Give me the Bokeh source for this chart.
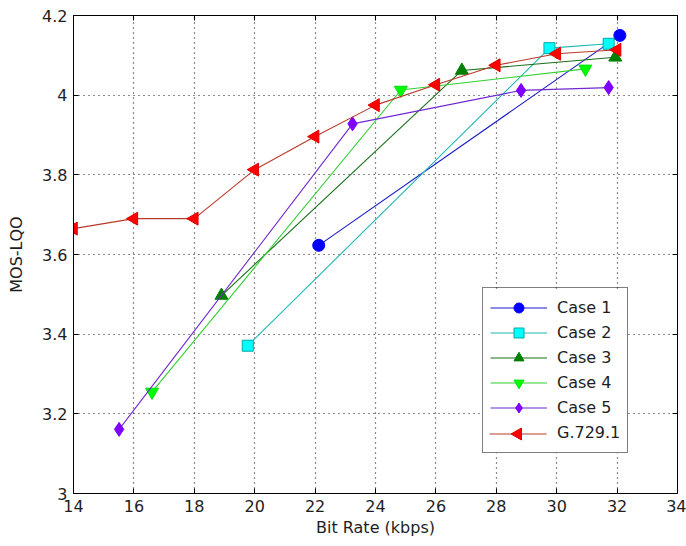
import math
from bokeh.plotting import figure
from bokeh.models import LinearAxis, Range1d, FixedTicker, Legend, LegendItem, ColumnDataSource
from bokeh.embed import file_html
from bokeh.resources import INLINE

# ---- data ----
case1_x = [22.12, 32.09]
case1_y = [3.623, 4.150]
case2_x = [19.77, 29.76, 31.72]
case2_y = [3.371, 4.118, 4.129]
case3_x = [18.90, 26.86, 31.94]
case3_y = [3.497, 4.062, 4.095]
case4_x = [16.60, 24.84, 30.95]
case4_y = [3.255, 4.013, 4.066]
case5_x = [15.51, 23.24, 28.82, 31.72]
case5_y = [3.161, 3.928, 4.012, 4.019]
g7291_x = [14, 16, 18, 20, 22, 24, 26, 28, 30, 32]
g7291_y = [3.665, 3.690, 3.690, 3.813, 3.896, 3.975, 4.026, 4.075, 4.104, 4.114]

x_ticks = [14, 16, 18, 20, 22, 24, 26, 28, 30, 32, 34]
y_ticks = [3.0, 3.2, 3.4, 3.6, 3.8, 4.0, 4.2]
y_tick_labels = {3.0: "3", 3.2: "3.2", 3.4: "3.4", 3.6: "3.6", 3.8: "3.8", 4.0: "4", 4.2: "4.2"}

FONT = "DejaVu Sans"
TXT = "#1e1e1e"

# frame size in pixels (used for the legend helper ranges)
FRAME_W, FRAME_H = 604, 478

p = figure(width=686, height=546, output_backend="svg", toolbar_location=None,
           x_range=Range1d(14, 34), y_range=Range1d(3, 4.2),
           min_border_left=73, min_border_right=9, min_border_top=15, min_border_bottom=53)
p.outline_line_color = "black"
p.outline_line_width = 1
p.background_fill_color = "white"
p.border_fill_color = "white"
p.extra_x_ranges = {"px": Range1d(0, FRAME_W)}
p.extra_y_ranges = {"py": Range1d(0, FRAME_H)}

# axes
for ax in (p.xaxis[0], p.yaxis[0]):
    ax.axis_line_color = "black"
    ax.major_tick_in = 5
    ax.major_tick_out = 0
    ax.minor_tick_line_color = None
    ax.major_tick_line_color = "black"
    ax.major_label_text_font = FONT
    ax.major_label_text_font_size = "16px"
    ax.major_label_text_color = TXT
    ax.axis_label_text_font = FONT
    ax.axis_label_text_font_size = "16px"
    ax.axis_label_text_font_style = "normal"
    ax.axis_label_text_color = TXT

p.xaxis[0].ticker = FixedTicker(ticks=x_ticks)
p.yaxis[0].ticker = FixedTicker(ticks=y_ticks)
p.yaxis[0].major_label_overrides = y_tick_labels
p.xaxis[0].axis_label = "Bit Rate (kbps)"
p.yaxis[0].axis_label = "MOS-LQO"
p.xaxis[0].major_label_standoff = 6
p.yaxis[0].major_label_standoff = 6
p.xaxis[0].axis_label_standoff = 3
p.yaxis[0].axis_label_standoff = 13

# top / right tick-only axes (no labels)
top = LinearAxis(ticker=FixedTicker(ticks=x_ticks), major_tick_in=5, major_tick_out=0,
                 minor_tick_line_color=None, major_label_text_color=None,
                 major_label_text_font_size="1px", major_label_standoff=0,
                 axis_line_color="black")
right = LinearAxis(ticker=FixedTicker(ticks=y_ticks), major_tick_in=5, major_tick_out=0,
                   minor_tick_line_color=None, major_label_text_color=None,
                   major_label_text_font_size="1px", major_label_standoff=0,
                   axis_line_color="black")
p.add_layout(top, "above")
p.add_layout(right, "right")

# grid
for g in (p.xgrid[0], p.ygrid[0]):
    g.grid_line_color = "black"
    g.grid_line_dash = "1 4"
    g.grid_line_width = 1.2
    g.grid_line_alpha = 0.9
p.xgrid[0].ticker = FixedTicker(ticks=x_ticks)
p.ygrid[0].ticker = FixedTicker(ticks=y_ticks)

# legend geometry (screen pixels inside the frame)
LEG_X, LEG_Y = 409, 40
PAD, GW, GH = 7, 57, 25
LEG_W, LEG_H = 145, 6 * GH + 2 * PAD

# white legend background (drawn below the legend so a rotated marker can sit on top)
p.quad(left=[LEG_X], right=[LEG_X + LEG_W], bottom=[LEG_Y], top=[LEG_Y + LEG_H],
       fill_color="white", line_color=None, x_range_name="px", y_range_name="py")

series = [
    ("Case 1", case1_x, case1_y, "#1818c8", "#0000ff", "#0000ff", "circle", 12, 0.0),
    ("Case 2", case2_x, case2_y, "#20b8b8", "#00ffff", "#00a8a8", "square", 11, 0.0),
    ("Case 3", case3_x, case3_y, "#187018", "#007f00", "#007f00", "triangle", 13, 0.0),
    ("Case 4", case4_x, case4_y, "#30d030", "#00ff00", "#00e000", "inverted_triangle", 13, 0.0),
    ("Case 5", case5_x, case5_y, "#7028d0", "#7f00ff", "#7f00ff", "diamond", 14, 0.0),
    ("G.729.1", g7291_x, g7291_y, "#b83a28", "#ff0000", "#e00000", "triangle", 13, math.pi / 2),
]

items = []
for i, (name, xs, ys, lc, mc, ec, mk, sz, ang) in enumerate(series):
    src = ColumnDataSource(dict(x=xs, y=ys))
    r1 = p.line("x", "y", source=src, line_color=lc, line_width=1.1)
    r2 = p.scatter("x", "y", source=src, marker=mk, size=sz, angle=ang,
                   fill_color=mc, line_color=ec, line_width=1)
    if ang == 0.0:
        items.append(LegendItem(label=name, renderers=[r1, r2]))
    else:
        # Bokeh's legend ignores marker angles: draw this legend sample by hand
        cy = LEG_Y + LEG_H - PAD - GH * (i + 0.5)
        p.segment(x0=[LEG_X + PAD], y0=[cy], x1=[LEG_X + PAD + GW], y1=[cy],
                  line_color=lc, line_width=1.1, x_range_name="px", y_range_name="py")
        p.scatter(x=[LEG_X + PAD + GW / 2], y=[cy], marker=mk, size=12, angle=ang,
                  fill_color=mc, line_color=ec, line_width=1,
                  x_range_name="px", y_range_name="py")
        dummy = p.line(x=[], y=[], line_alpha=0)
        items.append(LegendItem(label=name, renderers=[dummy]))

legend = Legend(items=items, location=(LEG_X, LEG_Y))
legend.border_line_color = "black"
legend.border_line_width = 1
legend.background_fill_alpha = 0
legend.label_text_font = FONT
legend.label_text_font_size = "16px"
legend.label_text_color = TXT
legend.glyph_width = GW
legend.glyph_height = GH
legend.label_height = GH
legend.label_standoff = 10
legend.spacing = 0
legend.padding = PAD
legend.margin = 0
p.add_layout(legend, "center")

open("out.html", "w").write(file_html(p, INLINE))
